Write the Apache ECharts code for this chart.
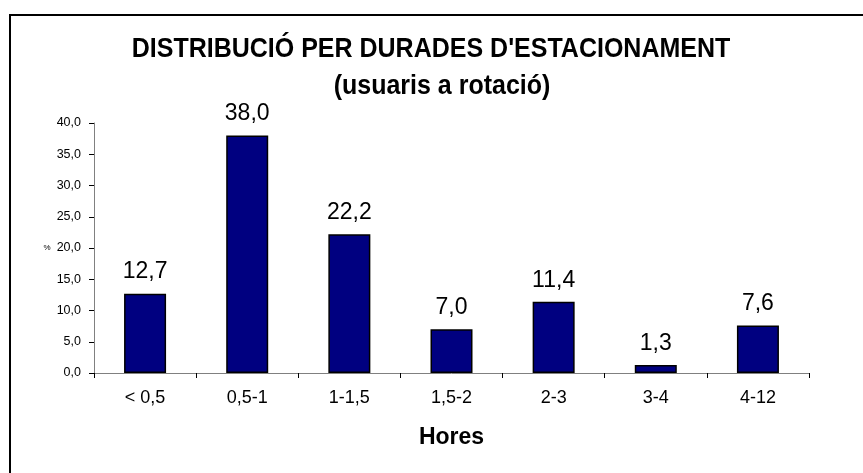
<!DOCTYPE html>
<html>
<head>
<meta charset="utf-8">
<script src="https://cdn.jsdelivr.net/npm/echarts@6/dist/echarts.min.js"></script>
<style>
html,body{margin:0;padding:0;background:#fff;}
#chart{width:863px;height:473px;}
</style>
</head>
<body>
<div id="chart"></div>
<script>
// Parking duration categories (hours) and share of rotation users (%)
const categories = ['< 0,5', '0,5-1', '1-1,5', '1,5-2', '2-3', '3-4', '4-12'];
const percentages = [12.7, 38.0, 22.2, 7.0, 11.4, 1.3, 7.6];
const yTicks = [0, 5, 10, 15, 20, 25, 30, 35, 40];
const titleLines = ["DISTRIBUCIÓ PER DURADES D'ESTACIONAMENT", '(usuaris a rotació)'];

const fmt = v => v.toFixed(1).replace('.', ',');
const font = 'Arial, "Liberation Sans", sans-serif';

const chart = echarts.init(document.getElementById('chart'), null, { renderer: 'canvas' });
chart.setOption({
  animation: false,
  backgroundColor: '#fff',
  graphic: [
    { type: 'rect', shape: { x: 10, y: 15, width: 900, height: 500 },
      style: { fill: 'none', stroke: '#000', lineWidth: 2 }, z: -1 },
    { type: 'text', x: 431, y: 49, scaleY: 1.1, originX: 0, originY: 0,
      style: { text: titleLines[0], font: 'bold 25px ' + font, fill: '#000',
        align: 'center', verticalAlign: 'middle' } },
    { type: 'text', x: 442, y: 86, scaleY: 1.1, originX: 0, originY: 0,
      style: { text: titleLines[1], font: 'bold 25px ' + font, fill: '#000',
        align: 'center', verticalAlign: 'middle' } },
    { type: 'text', x: 47, y: 248,
      style: { text: '%', font: '8px ' + font, fill: '#000', align: 'center', verticalAlign: 'middle' } }
  ],
  grid: { left: 94, right: 54, top: 123, bottom: 100, containLabel: false },
  xAxis: {
    type: 'category',
    data: categories,
    name: 'Hores',
    nameLocation: 'middle',
    nameGap: 53,
    nameTextStyle: { fontFamily: font, fontWeight: 'bold', fontSize: 23, color: '#000' },
    axisLine: { lineStyle: { color: '#808080', width: 1 } },
    axisTick: { show: true, length: 5, lineStyle: { color: '#000' } },
    axisLabel: { fontFamily: font, fontSize: 18, color: '#000', margin: 16 }
  },
  yAxis: {
    type: 'value',
    min: yTicks[0],
    max: yTicks[yTicks.length - 1],
    interval: 5,
    axisLine: { show: true, lineStyle: { color: '#808080', width: 1 } },
    axisTick: { show: true, length: 5, lineStyle: { color: '#000' } },
    splitLine: { show: false },
    axisLabel: { fontFamily: font, fontSize: 12.5, color: '#000', margin: 13, formatter: v => fmt(v) }
  },
  series: [{
    type: 'bar',
    data: percentages,
    barWidth: 42,
    itemStyle: { color: '#000080', borderColor: '#000', borderWidth: 1.5 },
    label: {
      show: true, position: 'top', distance: 10,
      fontFamily: font, fontSize: 23, color: '#000',
      formatter: p => fmt(p.value)
    }
  }]
});
</script>
</body>
</html>
